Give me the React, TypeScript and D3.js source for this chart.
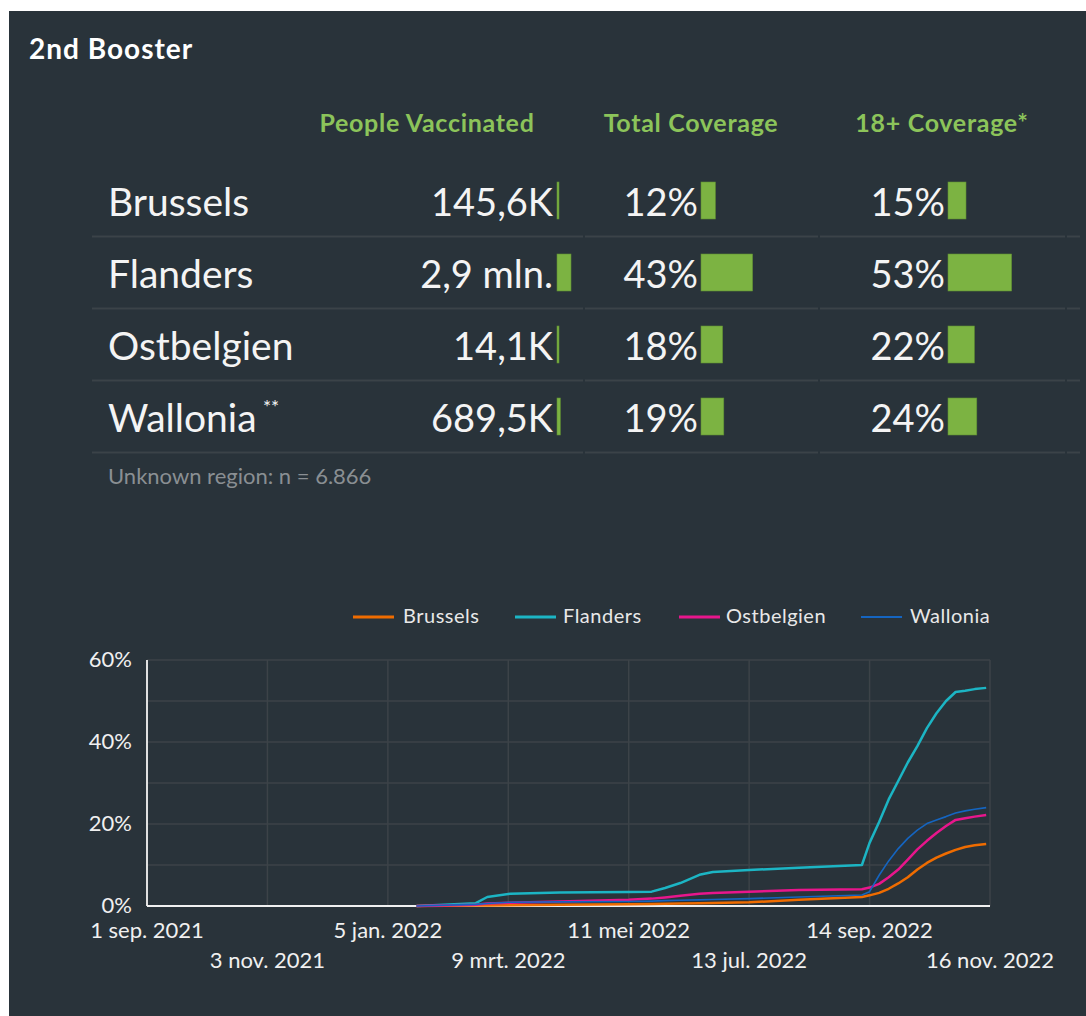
import React from "react";
import * as d3 from "d3";

const regions = ["Brussels", "Flanders", "Ostbelgien", "Wallonia"];
const peopleVaccinated = [145600, 2900000, 14100, 689500];
const peopleLabels = ["145,6K", "2,9 mln.", "14,1K", "689,5K"];
const totalCoverage = [12, 43, 18, 19];
const adultCoverage = [15, 53, 22, 24];
const headers = ["People Vaccinated", "Total Coverage", "18+ Coverage*"];

const dates = [
  "2022-01-20", "2022-02-20", "2022-02-26", "2022-03-10", "2022-04-05", "2022-05-11",
  "2022-05-23", "2022-05-30", "2022-06-07", "2022-06-17", "2022-06-24", "2022-07-13",
  "2022-08-08", "2022-09-10", "2022-09-14", "2022-09-19", "2022-09-24", "2022-09-29",
  "2022-10-04", "2022-10-09", "2022-10-14", "2022-10-19", "2022-10-24", "2022-10-29",
  "2022-11-03", "2022-11-08", "2022-11-14",
];
const brussels = [0, 0.1, 0.15, 0.2, 0.3, 0.4, 0.5, 0.55, 0.6, 0.7, 0.75, 0.9, 1.5, 2.2, 2.6, 3.2, 4.2, 5.5, 7.0, 8.9, 10.5, 11.8, 12.8, 13.7, 14.4, 14.8, 15.1];
const flanders = [0, 0.7, 2.2, 3.0, 3.3, 3.4, 3.5, 4.4, 5.6, 7.6, 8.3, 8.8, 9.3, 10.0, 15.4, 20.5, 26, 30.5, 35, 39, 43.4, 47, 50, 52.2, 52.5, 52.9, 53.2];
const ostbelgien = [0, 0.3, 0.6, 0.8, 1.1, 1.5, 1.8, 2.1, 2.5, 3.0, 3.2, 3.5, 3.9, 4.1, 4.5, 5.4, 7.0, 8.9, 11.3, 13.8, 15.9, 17.8, 19.5, 21, 21.4, 21.8, 22.2];
const wallonia = [0, 0.4, 0.6, 0.9, 1.0, 1.1, 1.2, 1.3, 1.4, 1.5, 1.6, 1.8, 2.2, 2.7, 3.5, 7.5, 11, 14, 16.5, 18.5, 20.1, 21, 21.8, 22.7, 23.2, 23.6, 24];
const seriesValues = [brussels, flanders, ostbelgien, wallonia];
const seriesColors = ["#ef6c00", "#1cb5c4", "#e8168c", "#1565c0"];
const seriesWidths = [2.5, 2.5, 2.5, 1.6];

const xTickDates = ["2021-09-01", "2021-11-03", "2022-01-05", "2022-03-09", "2022-05-11", "2022-07-13", "2022-09-14", "2022-11-16"];
const xTickLabels = ["1 sep. 2021", "3 nov. 2021", "5 jan. 2022", "9 mrt. 2022", "11 mei 2022", "13 jul. 2022", "14 sep. 2022", "16 nov. 2022"];
const yTicks = [0, 20, 40, 60];
const yGrid = [0, 10, 20, 30, 40, 50, 60];

const FONT = "Lato, 'Open Sans', sans-serif";
const BG = "#29333a";
const GREEN = "#8cc45a";
const BAR = "#7cb342";

export default function App() {
  const W = 1086, H = 1016;
  const parse = d3.timeParse("%Y-%m-%d");
  const x = d3.scaleTime().domain([parse("2021-09-01")!, parse("2022-11-16")!]).range([147, 990]);
  const y = d3.scaleLinear().domain([0, 60]).range([906, 660]);
  const line = d3.line<[Date, number]>().x(d => x(d[0])).y(d => y(d[1])).curve(d3.curveLinear);

  const rowY = d3.scalePoint<string>().domain(regions).range([200.5, 416.5]);
  const peopleW = d3.scaleLinear().domain([0, d3.max(peopleVaccinated)!]).range([0, 14]);
  const pctW = d3.scaleLinear().domain([0, 100]).range([0, 120]);

  const colEnd = [557, 701, 948];
  const headerX = [427, 691, 942];

  const legendItems = [
    { lx: 353, tx: 403 },
    { lx: 515, tx: 563 },
    { lx: 679, tx: 726 },
    { lx: 861, tx: 910 },
  ];

  return (
    <svg width={W} height={H} style={{ position: "absolute", left: 0, top: 0 }} fontFamily={FONT}>
      <rect x={0} y={0} width={W} height={H} fill="#ffffff" />
      <rect x={9} y={11} width={W - 9} height={H - 11} fill={BG} />
      <text x={29} y={59} fill="#ffffff" fontSize={28} fontWeight={700} letterSpacing={1}>2nd Booster</text>

      {headers.map((h, i) => (
        <text key={h} x={headerX[i]} y={132} textAnchor="middle" fill={GREEN} fontSize={25} fontWeight={700} letterSpacing={0.7}>{h}</text>
      ))}

      {regions.map((r, i) => {
        const cy = rowY(r)!;
        const pw = Math.max(2, peopleW(peopleVaccinated[i]));
        return (
          <g key={r}>
            <text x={108} y={cy + 15} fill="#f4f4f4" fontSize={39}>{r}</text>
            {r === "Wallonia" && <text x={263} y={cy - 3} fill="#f4f4f4" fontSize={19}>**</text>}
            <text x={colEnd[0] - 4} y={cy + 15} textAnchor="end" fill="#f4f4f4" fontSize={38}>{peopleLabels[i]}</text>
            <rect x={colEnd[0]} y={cy - 18.5} width={pw} height={37} fill={BAR} stroke="#5f8f33" strokeWidth={0.6} />
            <text x={colEnd[1] - 3} y={cy + 15} textAnchor="end" fill="#f4f4f4" fontSize={38}>{totalCoverage[i]}%</text>
            <rect x={colEnd[1]} y={cy - 18.5} width={pctW(totalCoverage[i])} height={37} fill={BAR} stroke="#5f8f33" strokeWidth={0.6} />
            <text x={colEnd[2] - 3} y={cy + 15} textAnchor="end" fill="#f4f4f4" fontSize={38}>{adultCoverage[i]}%</text>
            <rect x={colEnd[2]} y={cy - 18.5} width={pctW(adultCoverage[i])} height={37} fill={BAR} stroke="#5f8f33" strokeWidth={0.6} />
            {[[92, 583], [585, 818], [820, 1065], [1067, 1080]].map(([a, b], k) => (
              <line key={k} x1={a} x2={b} y1={cy + 36} y2={cy + 36} stroke="#3b4348" strokeWidth={2} />
            ))}
          </g>
        );
      })}

      <text x={108} y={484} fill="#8a8f93" fontSize={22}>Unknown region: n =  6.866</text>

      {/* legend */}
      {regions.map((r, i) => (
        <g key={r}>
          <line x1={legendItems[i].lx} x2={legendItems[i].lx + 41} y1={617} y2={617} stroke={seriesColors[i]} strokeWidth={seriesWidths[i] + 0.5} />
          <text x={legendItems[i].tx} y={623} fill="#e8e8e8" fontSize={20} letterSpacing={0.5}>{r}</text>
        </g>
      ))}

      {/* grid */}
      {yGrid.map(v => (
        <line key={v} x1={147} x2={990} y1={y(v)} y2={y(v)} stroke="#3c4348" strokeWidth={1.5} />
      ))}
      {xTickDates.map(d => (
        <line key={d} x1={x(parse(d)!)} x2={x(parse(d)!)} y1={660} y2={906} stroke="#3c4348" strokeWidth={1.5} />
      ))}
      <line x1={147} x2={147} y1={660} y2={906} stroke="#e0e0e0" strokeWidth={2} />
      <line x1={147} x2={990} y1={906} y2={906} stroke="#f0f0f0" strokeWidth={2} />

      {yTicks.map(v => (
        <text key={v} x={132} y={y(v) + 7} textAnchor="end" fill="#f0f0f0" fontSize={22}>{v}%</text>
      ))}
      {xTickDates.map((d, i) => (
        <text key={d} x={x(parse(d)!)} y={i % 2 === 0 ? 938 : 968} textAnchor="middle" fill="#f0f0f0" fontSize={22}>{xTickLabels[i]}</text>
      ))}

      {/* lines */}
      {seriesValues.map((vals, i) => {
        const pts: [Date, number][] = dates.map((d, k) => [parse(d)!, vals[k]]);
        return <path key={i} d={line(pts)!} fill="none" stroke={seriesColors[i]} strokeWidth={seriesWidths[i]} strokeLinejoin="round" />;
      })}
    </svg>
  );
}
